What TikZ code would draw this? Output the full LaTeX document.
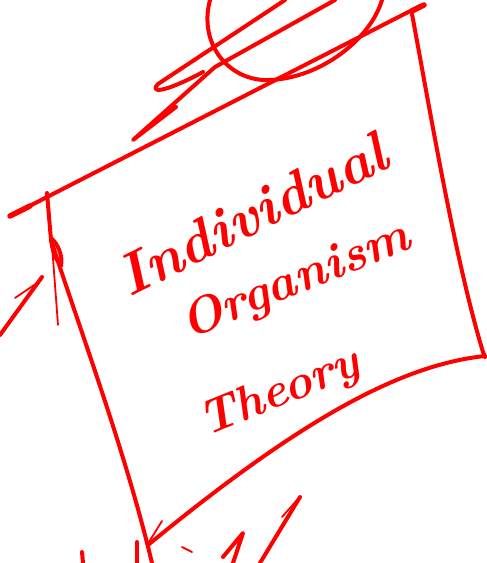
\documentclass[tikz,border=0pt]{standalone}
\usepackage{xcolor}
\usepackage{tikz}
\usetikzlibrary{calc}

\definecolor{inkred}{RGB}{255,0,0}

\begin{document}
\begin{tikzpicture}[
    x=1pt, y=-1pt,
    ink/.style={draw=inkred, line width=4pt, line cap=round, line join=round},
    thinink/.style={ink, line width=1.8pt},
    word/.style={text=inkred, inner sep=0pt, font=\bfseries\itshape},
]

% --- canvas ---
\useasboundingbox (0,0) rectangle (487,563);
\clip (0,0) rectangle (487,563);

% --- scribbles above the box ---
\draw[ink] (210,0) .. controls (198,45) and (230,82) .. (270,80)
    .. controls (320,78) and (370,40) .. (382,0);
\draw[ink] (285,0) -- (158,84) .. controls (150,92) and (160,95) .. (203,72);
\draw[ink] (335,0) -- (215,67) -- (133,140) -- (176,107);

% --- the box ---
\draw[ink] (10,216) -- (420,6);
\draw[ink, line width=5.5pt] (10,216) -- (30,206);
\draw[ink, line width=5.5pt] (412,11) -- (424,5);
\draw[ink] (412,14) .. controls (430,110) and (455,260) .. (483,352) -- (485,357);
\draw[ink] (485,356) .. controls (400,365) and (300,420) .. (148,545);
\draw[ink] (47,193) -- (51,240) .. controls (80,330) and (125,450) .. (152,563);

% --- left marks ---
\draw[ink] (51,238) .. controls (58,244) and (63,256) .. (61,266)
    .. controls (55,258) and (52,250) .. (51,238);
\draw[thinink] (58,325) -- (52,245);
\draw[ink] (0,335) -- (42,277);
\draw[thinink] (15,298) -- (40,281);

% --- marks below the box ---
\draw[thinink] (147,545) -- (162,521);
\draw[ink] (82,552) -- (83,563);
\draw[ink] (137,542) -- (137,563);
\draw[thinink] (182,547) -- (192,552);
\draw[ink] (223,557) -- (243,533) -- (233,563);
\draw[ink] (300,497) -- (260,563);
\draw[thinink] (282,517) -- (297,500);

% --- words ---
\node[word, rotate=26.5, font=\fontsize{58}{58}\selectfont\bfseries\itshape] (indiv) at (252,214) {Individual};
\node[word, rotate=22, font=\fontsize{50}{50}\selectfont\bfseries\itshape] (organ) at (296,282) {Organism};
\node[word, rotate=22, font=\fontsize{48}{48}\selectfont\bfseries\itshape] (theory) at (280,394) {Theory};

\end{tikzpicture}
\end{document}
